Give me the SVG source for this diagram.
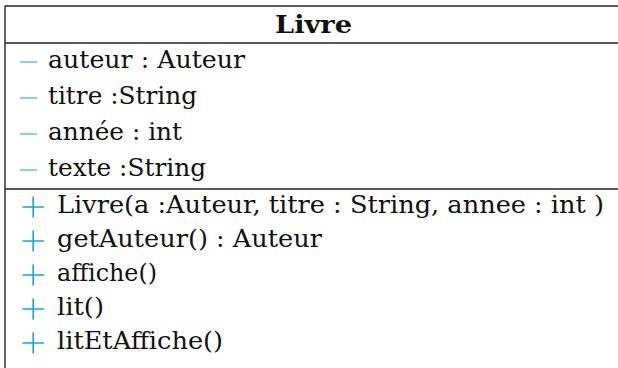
<svg xmlns="http://www.w3.org/2000/svg" width="618" height="368" viewBox="0 0 618 368">
  <style>
    .frame { stroke: #222; stroke-width: 1.4; fill: none; }
    .txt { font-family: 'DejaVu Serif', serif; font-size: 24px; fill: #111; }
    .title { font-family: 'DejaVu Serif', serif; font-size: 24px; font-weight: bold; fill: #111; }
    .priv { stroke: #6cc4e8; stroke-width: 1.6; }
    .pub { stroke: #1aa2dd; stroke-width: 1.6; }
  </style>
  <rect width="618" height="368" fill="#fff"/>
  <g id="class-livre">
    <!-- class frame: open on the right and bottom -->
    <line class="frame" x1="5" y1="6" x2="618" y2="6"/>
    <line class="frame" x1="5" y1="43" x2="618" y2="43"/>
    <line class="frame" x1="5" y1="189" x2="618" y2="189"/>
    <line class="frame" x1="5" y1="6" x2="5" y2="368" stroke="#444"/>

    <text class="title" x="275" y="33" textLength="77" lengthAdjust="spacingAndGlyphs">Livre</text>

    <!-- attributes (private) -->
    <g id="attributes">
      <line class="priv" x1="20" y1="62" x2="37" y2="62"/>
      <text class="txt" x="48" y="68" textLength="197" lengthAdjust="spacingAndGlyphs">auteur : Auteur</text>
      <line class="priv" x1="20" y1="98" x2="37" y2="98"/>
      <text class="txt" x="48" y="104" textLength="149" lengthAdjust="spacingAndGlyphs">titre :String</text>
      <line class="priv" x1="20" y1="134" x2="37" y2="134"/>
      <text class="txt" x="48" y="140" textLength="134" lengthAdjust="spacingAndGlyphs">année : int</text>
      <line class="priv" x1="20" y1="170" x2="37" y2="170"/>
      <text class="txt" x="48" y="176" textLength="158" lengthAdjust="spacingAndGlyphs">texte :String</text>
    </g>

    <!-- operations (public) -->
    <g id="operations">
      <path class="pub" d="M22.5 207H44M33.2 196.5V217.5"/>
      <text class="txt" x="57" y="213" textLength="547" lengthAdjust="spacingAndGlyphs">Livre(a :Auteur, titre : String, annee : int )</text>
      <path class="pub" d="M22.5 241H44M33.2 230.5V251.5"/>
      <text class="txt" x="57" y="247" textLength="265" lengthAdjust="spacingAndGlyphs">getAuteur() : Auteur</text>
      <path class="pub" d="M22.5 275H44M33.2 264.5V285.5"/>
      <text class="txt" x="57" y="281" textLength="100" lengthAdjust="spacingAndGlyphs">affiche()</text>
      <path class="pub" d="M22.5 309H44M33.2 298.5V319.5"/>
      <text class="txt" x="57" y="315" textLength="47" lengthAdjust="spacingAndGlyphs">lit()</text>
      <path class="pub" d="M22.5 343H44M33.2 332.5V353.5"/>
      <text class="txt" x="57" y="349" textLength="166" lengthAdjust="spacingAndGlyphs">litEtAffiche()</text>
    </g>
  </g>
</svg>
